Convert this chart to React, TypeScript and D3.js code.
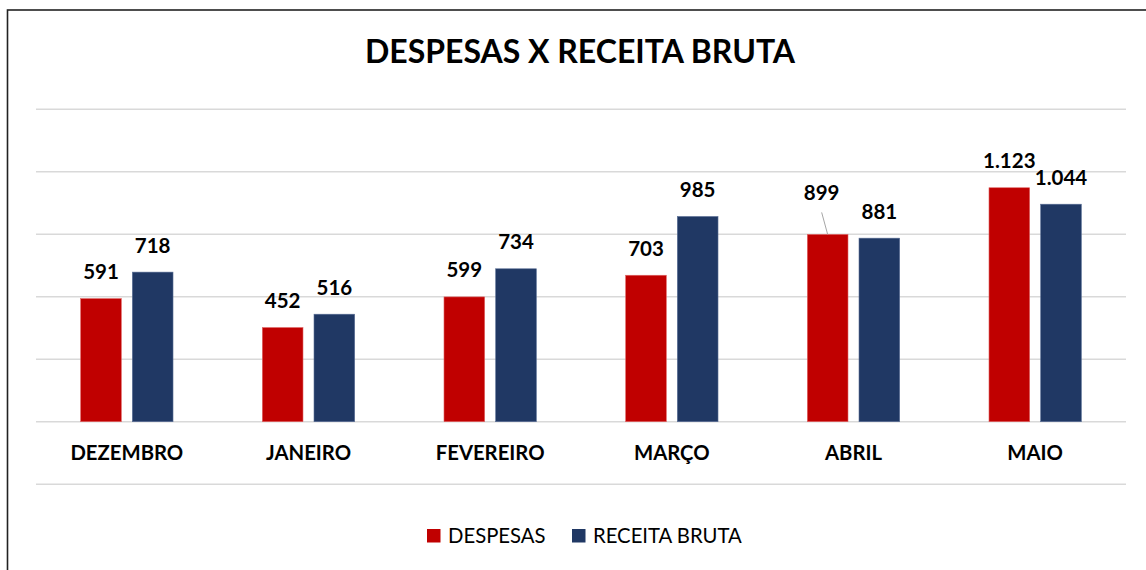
import React, { useEffect, useRef } from 'react';
import * as d3 from 'd3';

const months = ['DEZEMBRO', 'JANEIRO', 'FEVEREIRO', 'MARÇO', 'ABRIL', 'MAIO'];
const despesas = [591, 452, 599, 703, 899, 1123];
const receitaBruta = [718, 516, 734, 985, 881, 1044];
const seriesNames = ['DESPESAS', 'RECEITA BRUTA'];
const gridValues = [-300, 0, 300, 600, 900, 1200, 1500];

const colors = ['#C00000', '#203864'];
const font = 'Lato, "Open Sans", sans-serif';

const App = () => {
  const svgRef = useRef<SVGSVGElement>(null);

  useEffect(() => {
    const width = 1146;
    const height = 570;
    const margin = { left: 36, right: 20 };

    svgRef.current!.innerHTML = '';
    const svg = d3.select(svgRef.current)
      .attr('width', width)
      .attr('height', height);

    svg.append('rect')
      .attr('width', width).attr('height', height).attr('fill', '#fff');

    // chart frame (right/bottom edges are outside the picture)
    svg.append('rect')
      .attr('x', 7.5).attr('y', 10)
      .attr('width', width + 20).attr('height', height + 20)
      .attr('fill', 'none')
      .attr('stroke', '#222')
      .attr('stroke-width', 1.6);

    svg.append('text')
      .attr('x', 580).attr('y', 63)
      .attr('text-anchor', 'middle')
      .attr('font-family', font)
      .attr('font-weight', 700)
      .attr('font-size', 32)
      .attr('fill', '#000')
      .text('DESPESAS X RECEITA BRUTA');

    const xScale = d3.scaleBand()
      .domain(months)
      .range([margin.left, width - margin.right]);

    const inner = d3.scaleBand()
      .domain(seriesNames)
      .range([0, xScale.bandwidth()])
      .paddingInner(0.213)
      .paddingOuter(0.864);

    const yScale = d3.scaleLinear()
      .domain([-300, 1500])
      .range([484.2, 109.2]);

    svg.append('g')
      .selectAll('line')
      .data(gridValues)
      .enter().append('line')
      .attr('x1', margin.left).attr('x2', width - margin.right)
      .attr('y1', d => yScale(d)).attr('y2', d => yScale(d))
      .attr('stroke', '#d9d9d9')
      .attr('stroke-width', 1.5);

    const rows = months.map((m, i) => ({ month: m, values: [despesas[i], receitaBruta[i]] }));

    const groups = svg.append('g')
      .selectAll('g')
      .data(rows)
      .enter().append('g')
      .attr('transform', d => `translate(${xScale(d.month)},0)`);

    groups.selectAll('rect')
      .data(d => d.values.map((v, k) => ({ key: seriesNames[k], v, k, month: d.month })))
      .enter().append('rect')
      .attr('x', d => inner(d.key)!)
      .attr('y', d => yScale(d.v))
      .attr('width', inner.bandwidth())
      .attr('height', d => yScale(0) - yScale(d.v))
      .attr('fill', d => colors[d.k])
      .attr('stroke', d => d.k === 0 ? '#e06666' : '#5a6f96')
      .attr('stroke-width', 0.6);

    const fmt = (v: number) => d3.format(',')(v).replace(/,/g, '.');

    groups.selectAll('text.val')
      .data(d => d.values.map((v, k) => ({ key: seriesNames[k], v, k, month: d.month })))
      .enter().append('text')
      .attr('class', 'val')
      .attr('x', d => inner(d.key)! + inner.bandwidth() / 2 - (d.month === 'ABRIL' && d.k === 0 ? 6 : 0))
      .attr('y', d => yScale(d.v) - (d.month === 'ABRIL' && d.k === 0 ? 34 : 19.5))
      .attr('text-anchor', 'middle')
      .attr('font-family', font)
      .attr('font-weight', 700)
      .attr('font-size', 20.5)
      .attr('fill', '#000')
      .text(d => fmt(d.v));

    // leader line for the moved ABRIL label
    const abrilX = xScale('ABRIL')! + inner(seriesNames[0])! + inner.bandwidth() / 2;
    svg.append('line')
      .attr('x1', abrilX - 6).attr('y1', yScale(despesas[4]) - 22)
      .attr('x2', abrilX).attr('y2', yScale(despesas[4]))
      .attr('stroke', '#a6a6a6')
      .attr('stroke-width', 1);

    svg.append('g')
      .selectAll('text')
      .data(months)
      .enter().append('text')
      .attr('x', d => xScale(d)! + xScale.bandwidth() / 2)
      .attr('y', 460)
      .attr('text-anchor', 'middle')
      .attr('font-family', font)
      .attr('font-weight', 700)
      .attr('font-size', 20.3)
      .attr('fill', '#000')
      .text(d => d);

    const legendX = [427, 572];
    const legend = svg.append('g')
      .selectAll('g')
      .data(seriesNames)
      .enter().append('g')
      .attr('transform', (d, i) => `translate(${legendX[i]},529)`);
    legend.append('rect')
      .attr('width', 13.5).attr('height', 13.5)
      .attr('fill', (d, i) => colors[i]);
    legend.append('text')
      .attr('x', 21).attr('y', 13.5)
      .attr('font-family', font)
      .attr('font-size', 20.3)
      .attr('fill', '#000')
      .text(d => d);
  }, []);

  return (
    <div style={{ position: 'fixed', left: 0, top: 0 }}>
      <svg ref={svgRef} style={{ display: 'block' }}></svg>
    </div>
  );
};

export default App;
